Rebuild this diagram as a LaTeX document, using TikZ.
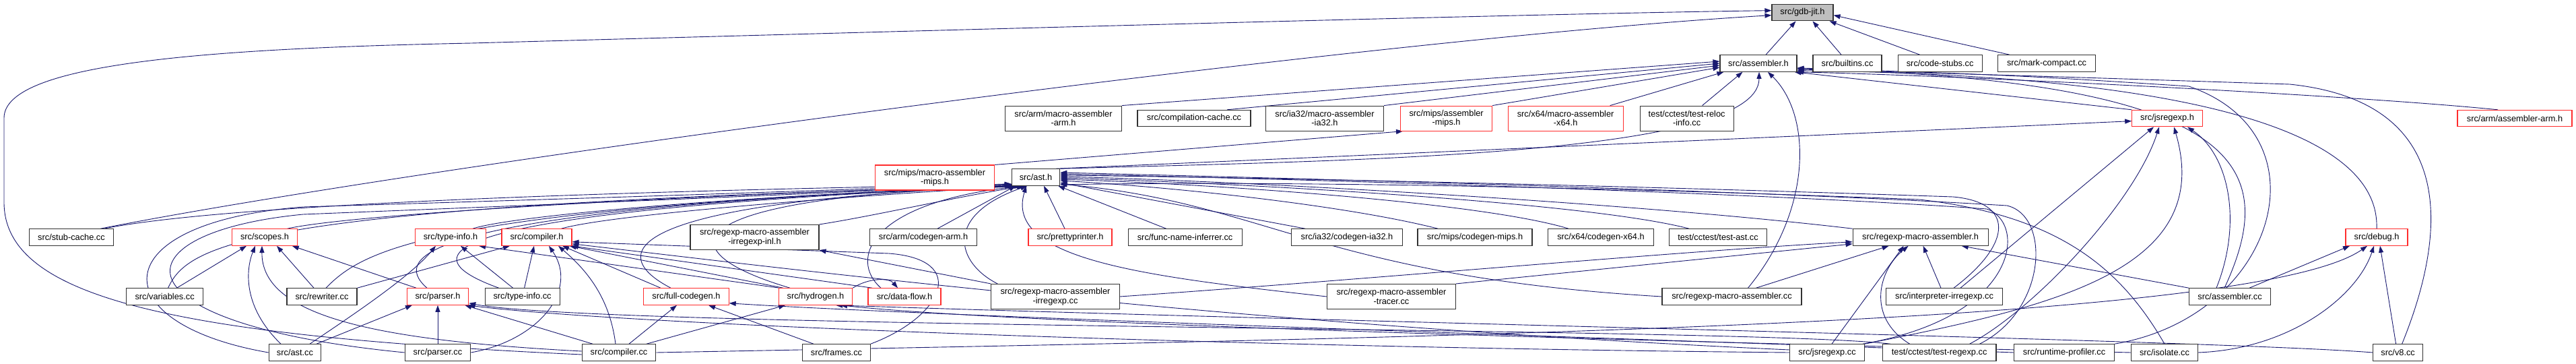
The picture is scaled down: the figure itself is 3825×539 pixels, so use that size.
\documentclass[tikz,border=0pt]{standalone}
\usepackage{fontspec}
\setmainfont{Liberation Sans}
\usetikzlibrary{arrows.meta,backgrounds}
\definecolor{eblue}{RGB}{25,25,112}
\definecolor{nred}{RGB}{255,45,45}
\definecolor{ngray}{RGB}{191,191,191}
\definecolor{nblack}{RGB}{50,50,50}
\begin{document}
\begin{tikzpicture}[x=1pt,y=-1pt,
  nb/.style={draw=nblack, line width=1.1pt, fill=white, inner sep=0pt, minimum height=24.5pt, align=center, font=\fontsize{12.8}{13.6}\selectfont},
  nr/.style={nb, draw=nred},
  twol/.style={minimum height=37pt},
  edg/.style={draw=eblue, line width=0.9pt, -{Triangle[length=10pt,width=7pt]}}]
\useasboundingbox (0,0) rectangle (3825,539);
% ---------- nodes ----------
\node[nb, fill=ngray, minimum width=91pt] (gdb) at (2676.5,18.6) {src/gdb-jit.h};
\node[nb, minimum width=114pt] (asm) at (2611,94) {src/assembler.h};
\node[nb, minimum width=102pt] (builtins) at (2743,94) {src/builtins.cc};
\node[nb, minimum width=125pt] (codestubs) at (2880.6,94) {src/code-stubs.cc};
\node[nb, minimum width=145pt] (markcompact) at (3039,94) {src/mark-compact.cc};
\node[nb, twol, minimum width=172.6pt] (armmasm) at (1579,175.6) {src/arm/macro-assembler\\-arm.h};
\node[nb, minimum width=168pt] (compcache) at (1773,175.6) {src/compilation-cache.cc};
\node[nb, twol, minimum width=175pt] (ia32masm) at (1967,175.6) {src/ia32/macro-assembler\\-ia32.h};
\node[nr, twol, minimum width=136pt] (mipsasm) at (2147.6,175.6) {src/mips/assembler\\-mips.h};
\node[nr, twol, minimum width=171pt] (x64masm) at (2324.6,175.6) {src/x64/macro-assembler\\-x64.h};
\node[nb, twol, minimum width=139pt] (testreloc) at (2504.6,175.6) {test/cctest/test-reloc\\-info.cc};
\node[nr, minimum width=104.5pt] (jsregexph) at (3218,175.6) {src/jsregexp.h};
\node[nr, minimum width=170pt] (armasm) at (3734,175.6) {src/arm/assembler-arm.h};
\node[nr, twol, minimum width=177.5pt] (mipsmasm) at (1388,263.5) {src/mips/macro-assembler\\-mips.h};
\node[nb, minimum width=71.6pt] (asth) at (1538,263) {src/ast.h};
% row 5
\node[nb, minimum width=125.4pt] (stubcache) at (106,352) {src/stub-cache.cc};
\node[nr, minimum width=96.4pt] (scopes) at (393,352) {src/scopes.h};
\node[nr, minimum width=105pt] (typeinfoh) at (669,352) {src/type-info.h};
\node[nr, minimum width=104pt] (compilerh) at (797,352) {src/compiler.h};
\node[nb, twol, minimum width=191pt] (rmairinl) at (1120.5,352) {src/regexp-macro-assembler\\-irregexp-inl.h};
\node[nb, minimum width=159.5pt] (armcodegen) at (1371,352) {src/arm/codegen-arm.h};
\node[nr, minimum width=124pt] (pretty) at (1589,352) {src/prettyprinter.h};
\node[nb, minimum width=169pt] (fni) at (1759.6,352) {src/func-name-inferrer.cc};
\node[nb, minimum width=165pt] (ia32codegen) at (2000,352) {src/ia32/codegen-ia32.h};
\node[nb, minimum width=170pt] (mipscodegen) at (2190,352) {src/mips/codegen-mips.h};
\node[nb, minimum width=156.4pt] (x64codegen) at (2377,352) {src/x64/codegen-x64.h};
\node[nb, minimum width=145.5pt] (testast) at (2551,352) {test/cctest/test-ast.cc};
\node[nb, minimum width=201pt] (rmah) at (2851.6,352) {src/regexp-macro-assembler.h};
\node[nr, minimum width=92pt] (debugh) at (3529,352) {src/debug.h};
% row 6
\node[nb, minimum width=113.4pt] (variables) at (244.6,440) {src/variables.cc};
\node[nb, minimum width=104pt] (rewriter) at (478,440) {src/rewriter.cc};
\node[nr, minimum width=91.5pt] (parserh) at (650,440) {src/parser.h};
\node[nb, minimum width=111pt] (typeinfocc) at (775.6,440) {src/type-info.cc};
\node[nr, minimum width=126.3pt] (fullcodegen) at (1019,440) {src/full-codegen.h};
\node[nr, minimum width=109.4pt] (hydrogen) at (1211,440) {src/hydrogen.h};
\node[nr, minimum width=108pt] (dataflow) at (1343,440) {src/data-flow.h};
\node[nb, twol, minimum width=190.5pt] (rmairregexp) at (1567,440) {src/regexp-macro-assembler\\-irregexp.cc};
\node[nb, twol, minimum width=191pt] (rmatracer) at (2066,440) {src/regexp-macro-assembler\\-tracer.cc};
\node[nb, minimum width=207pt] (rmacc) at (2571.5,440) {src/regexp-macro-assembler.cc};
\node[nb, minimum width=172.6pt] (interp) at (2887,440) {src/interpreter-irregexp.cc};
\node[nb, minimum width=121pt] (assemblercc) at (3311,440) {src/assembler.cc};
% row 7
\node[nb, minimum width=77.5pt] (astcc) at (438,523) {src/ast.cc};
\node[nb, minimum width=97.5pt] (parsercc) at (650,523) {src/parser.cc};
\node[nb, minimum width=109.4pt] (compilercc) at (919,523) {src/compiler.cc};
\node[nb, minimum width=100.5pt] (frames) at (1242,523) {src/frames.cc};
\node[nb, minimum width=110.7pt] (jsregexpcc) at (2713,523) {src/jsregexp.cc};
\node[nb, minimum width=168.7pt] (testregexp) at (2879.6,523) {test/cctest/test-regexp.cc};
\node[nb, minimum width=148.6pt] (runtimeprof) at (3065,523) {src/runtime-profiler.cc};
\node[nb, minimum width=98.3pt] (isolate) at (3214,523) {src/isolate.cc};
\node[nb, minimum width=73.7pt] (v8cc) at (3560.6,523) {src/v8.cc};
% ---------- edges ----------
\begin{scope}[on background layer]
\fill[white] (0,0) rectangle (3825,539);
% into gdb-jit.h
\draw[edg] ([xshift=11pt]asm.north) -- ([xshift=-10pt]gdb.south);
\draw[edg] ([xshift=-9pt]builtins.north) -- ([xshift=15pt]gdb.south);
\draw[edg] ([xshift=-30pt]codestubs.north) -- ([xshift=-6pt]gdb.south east);
\draw[edg] ([xshift=-55pt]markcompact.north) -- ([yshift=-4pt]gdb.east);
\draw[edg] ([xshift=-20pt]stubcache.north east) .. controls (600,250) and (2000,60) .. ([yshift=-4pt]gdb.west);
\draw[edg] ([yshift=-3pt]compilercc.west) .. controls (250,498) and (6,440) .. (6,300) -- (6,175) .. controls (6,95) and (300,72) .. (700,64) .. controls (1500,42) and (2300,20) .. ([yshift=3pt]gdb.west);
% into assembler.h from the left
\draw[edg] (armmasm.north east) -- ([yshift=3pt]asm.west);
\draw[edg] ([xshift=49pt]compcache.north) -- ([yshift=0pt]asm.west);
\draw[edg] (ia32masm.north east) -- ([yshift=-3pt]asm.west);
\draw[edg] (mipsasm.north east) -- ([yshift=-6pt]asm.west);
\draw[edg] ([xshift=-20pt]x64masm.north east) -- ([xshift=6pt]asm.south west);
\draw[edg] ([xshift=23pt]testreloc.north) -- ([xshift=34pt]asm.south west);
\draw[edg] (asth.north east) .. controls (2000,238) and (2612,232) .. ([xshift=1pt]asm.south);
\draw[edg] ([xshift=24pt]rmacc.north) .. controls (2692,310) and (2690,170) .. ([xshift=14pt]asm.south);
\draw[edg] (mipsmasm.north east) -- ([xshift=4pt]mipsasm.south west);
% into assembler.h from the right
\draw[edg] (jsregexph.north west) -- ([xshift=-4pt]asm.south east);
\draw[edg] ([xshift=-25pt]armasm.north) .. controls (3480,140) and (2900,112) .. ([xshift=-1pt]asm.south east);
\draw[edg] (debugh.north) .. controls (3535,170) and (3150,110) .. ([yshift=2pt]asm.south east);
\draw[edg] ([xshift=6pt]v8cc.north) .. controls (3640,330) and (3640,150) .. (3400,125) .. controls (3000,112) .. ([yshift=4pt]asm.south east);
\draw[edg] ([xshift=-8pt]assemblercc.north) .. controls (3385,250) and (3340,120) .. ([yshift=5pt]asm.south east);
\draw[edg] (runtimeprof.north east) .. controls (3380,470) and (3460,200) .. (3250,128) .. controls (3000,112) .. ([yshift=6pt]asm.south east);
% into jsregexp.h
\draw[edg] ([xshift=-6pt]asth.north east) .. controls (1900,236) and (2600,205) .. ([yshift=-4pt]jsregexph.west);
\draw[edg] ([xshift=24pt]interp.north) -- ([xshift=-20pt]jsregexph.south);
\draw[edg] ([xshift=45pt]testregexp.north) .. controls (3020,460) and (3170,300) .. ([xshift=-12pt]jsregexph.south);
\draw[edg] (jsregexpcc.north east) .. controls (3050,455) and (3290,400) .. ([xshift=10pt]jsregexph.south);
\draw[edg] ([xshift=-20pt]assemblercc.north) .. controls (3330,330) and (3310,230) .. ([xshift=30pt]jsregexph.south);
% into regexp-macro-assembler.h
\draw[edg] ([xshift=36pt]rmacc.north) -- ([xshift=-47pt]rmah.south);
\draw[edg] ([xshift=-5pt]interp.north) -- ([xshift=4pt]rmah.south);
\draw[edg] ([xshift=7pt]jsregexpcc.north) -- ([xshift=-25pt]rmah.south);
\draw[edg] ([xshift=-44pt]testregexp.north) .. controls (2770,470) and (2790,400) .. ([xshift=-18pt]rmah.south);
\draw[edg] (assemblercc.north west) -- ([xshift=-40pt]rmah.south east);
\draw[edg] (rmatracer.north east) -- ([yshift=3pt]rmah.south west);
\draw[edg] (rmairregexp.east) .. controls (2000,417) and (2500,372) .. ([yshift=6pt]rmah.south west);
% into ast.h from the right
\draw[edg] ([xshift=-28pt]fni.north) -- ([xshift=-3pt]asth.south east);
\draw[edg] ([xshift=-8pt]pretty.north) -- ([xshift=12pt]asth.south);
\draw[edg] ([xshift=-62pt]ia32codegen.north) -- ([yshift=-8pt]asth.east);
\draw[edg] ([xshift=-55pt]mipscodegen.north) .. controls (2000,305) and (1750,278) .. ([yshift=-5pt]asth.east);
\draw[edg] ([xshift=-48pt]x64codegen.north) .. controls (2200,300) and (1800,273) .. ([yshift=-3pt]asth.east);
\draw[edg] ([xshift=-43pt]testast.north) .. controls (2350,298) and (1800,270) .. ([yshift=-1pt]asth.east);
\draw[edg] (rmah.north west) .. controls (2400,298) and (1800,267) .. ([yshift=1pt]asth.east);
\draw[edg] (rmacc.west) .. controls (1960,410) and (1880,300) .. ([yshift=-10pt]asth.east);
\draw[edg] ([xshift=14pt]interp.north) .. controls (2990,360) and (2990,300) .. (2900,292) .. controls (2400,275) and (1900,264) .. ([yshift=3pt]asth.east);
\draw[edg] ([xshift=-3pt]jsregexpcc.north east) .. controls (3000,470) and (3010,330) .. (2950,310) .. controls (2600,285) and (1900,265) .. ([yshift=5pt]asth.east);
\draw[edg] ([xshift=-25pt]testregexp.north east) .. controls (3040,460) and (3045,320) .. (2980,305) .. controls (2600,282) and (1900,264) .. ([yshift=7pt]asth.east);
\draw[edg] (isolate.north) .. controls (3150,400) and (3060,320) .. (2850,296) .. controls (2400,278) and (1900,268) .. ([yshift=-11pt]asth.east);
% into ast.h from below / left
\draw[edg] ([xshift=21pt]armcodegen.north) -- ([xshift=-30pt]asth.south);
\draw[edg] (rmatracer.west) .. controls (1700,410) and (1490,385) .. ([xshift=-14pt]asth.south);
\draw[edg] ([xshift=-15pt]stubcache.north east) .. controls (350,300) and (1000,282) .. (asth.196);
\draw[edg] ([xshift=-15pt]scopes.north east) .. controls (520,318) and (1000,290) .. (asth.198);
\draw[edg] ([xshift=5pt]variables.north) .. controls (280,360) and (380,305) .. (asth.200);
\draw[edg] ([xshift=6pt]rewriter.north) .. controls (540,370) and (640,310) .. (asth.202);
\draw[edg] ([xshift=-16pt]parserh.north) .. controls (580,380) and (620,310) .. (asth.204);
\draw[edg] ([xshift=-20pt]typeinfoh.north east) .. controls (760,320) and (1100,290) .. (asth.206);
\draw[edg] ([xshift=-16pt]compilerh.north east) .. controls (900,320) and (1200,295) .. (asth.208);
\draw[edg] ([xshift=-35pt]typeinfocc.north) .. controls (610,380) and (610,315) .. (asth.200);
\draw[edg] (astcc.west) .. controls (150,480) and (150,330) .. (450,307) .. controls (1000,290) .. (asth.195);
\draw[edg] (parsercc.west) .. controls (160,480) and (170,345) .. (450,318) .. controls (1000,296) .. (asth.197);
\draw[edg] ([xshift=-23pt]fullcodegen.north) .. controls (905,380) and (900,300) .. (asth.210);
\draw[edg] ([xshift=-38pt]hydrogen.north) .. controls (980,370) and (1000,292) .. (asth.212);
\draw[edg] ([xshift=-35pt]dataflow.north) .. controls (1260,385) and (1290,300) .. (asth.215);
\draw[edg] (rmairinl.north east) .. controls (1300,320) and (1420,292) .. (asth.218);
\draw[edg] ([xshift=10pt]rmairregexp.north west) .. controls (1420,390) and (1400,320) .. (asth.225);
\draw[edg] (rmairregexp.north west) -- (rmairinl.south east);
% into scopes.h
\draw[edg] ([xshift=18pt]variables.north) -- ([xshift=-27pt]scopes.south);
\draw[edg] ([xshift=-12pt]rewriter.north) -- ([xshift=18pt]scopes.south);
\draw[edg] ([xshift=-32pt]parserh.north) -- ([xshift=-8pt]scopes.south east);
\draw[edg] ([xshift=-21pt]astcc.north) .. controls (360,455) and (365,400) .. ([xshift=-14pt]scopes.south);
\draw[edg] ([yshift=2pt]compilercc.west) .. controls (560,505) and (388,470) .. ([xshift=-4pt]scopes.south);
% into parser.h
\draw[edg] ([xshift=32pt]astcc.north) -- ([xshift=-38pt]parserh.south);
\draw[edg] (parsercc) -- (parserh);
\draw[edg] ([xshift=-39pt]compilercc.north) -- ([xshift=-6pt]parserh.south east);
\draw[edg] (jsregexpcc.west) .. controls (1800,515) and (900,480) .. ([xshift=-1pt]parserh.south east);
\draw[edg] ([xshift=12pt]testregexp.north west) .. controls (2600,485) and (900,488) .. ([yshift=3pt]parserh.south east);
% into type-info.h
\draw[edg] ([xshift=22pt]astcc.north) .. controls (520,470) and (610,410) .. ([xshift=-22pt]typeinfoh.south);
\draw[edg] ([xshift=-14pt]typeinfocc.north) -- ([xshift=15pt]typeinfoh.south);
\draw[edg] ([xshift=-54pt]hydrogen.north) -- ([xshift=-11pt]typeinfoh.south east);
% into compiler.h
\draw[edg] (rewriter.north east) -- ([xshift=-40pt]compilerh.south);
\draw[edg] ([xshift=3pt]typeinfocc.north) -- ([xshift=-4pt]compilerh.south);
\draw[edg] (parsercc.east) .. controls (800,505) and (860,430) .. ([xshift=18pt]compilerh.south);
\draw[edg] ([xshift=-5pt]compilercc.north) .. controls (905,440) and (870,400) .. ([xshift=32pt]compilerh.south);
\draw[edg] ([xshift=-38pt]fullcodegen.north) -- ([xshift=38pt]compilerh.south);
\draw[edg] ([xshift=-48pt]hydrogen.north) -- ([xshift=-4pt]compilerh.south east);
\draw[edg] ([xshift=-48pt]dataflow.north) -- ([xshift=-1pt]compilerh.south east);
\draw[edg] ([yshift=4pt]jsregexpcc.west) .. controls (1800,480) and (1100,390) .. ([yshift=3pt]compilerh.south east);
\draw[edg] (frames.north east) .. controls (1400,470) and (1440,385) .. (1320,376) .. controls (1100,368) .. ([yshift=6pt]compilerh.south east);
% into full-codegen.h
\draw[edg] ([xshift=15pt]compilercc.north) -- ([xshift=-14pt]fullcodegen.south);
\draw[edg] ([xshift=-34pt]frames.north) -- ([xshift=33pt]fullcodegen.south);
\draw[edg] (runtimeprof.west) .. controls (2500,505) and (1400,470) .. ([yshift=3pt]fullcodegen.south east);
% into hydrogen.h / data-flow.h
\draw[edg] ([xshift=41pt]compilercc.north) -- ([xshift=-45pt]hydrogen.south);
\draw[edg] (isolate.west) .. controls (2400,505) and (1500,480) .. ([xshift=37pt]hydrogen.south);
\draw[edg] (v8cc.west) .. controls (3300,505) and (2000,478) .. ([xshift=30pt]hydrogen.south);
\draw[edg] (hydrogen.north east) .. controls (1290,412) and (1320,412) .. ([xshift=-10pt]dataflow.north);
% into debug.h
\draw[edg] ([xshift=29pt]assemblercc.north) -- ([xshift=-40pt]debugh.south);
\draw[edg] (compilercc.east) .. controls (2200,500) and (3350,480) .. ([xshift=-14pt]debugh.south);
\draw[edg] (isolate.east) .. controls (3400,518) and (3500,440) .. ([xshift=-4pt]debugh.south);
\draw[edg] ([xshift=-3pt]v8cc.north) -- ([xshift=5pt]debugh.south);
\end{scope}
\end{tikzpicture}
\end{document}
